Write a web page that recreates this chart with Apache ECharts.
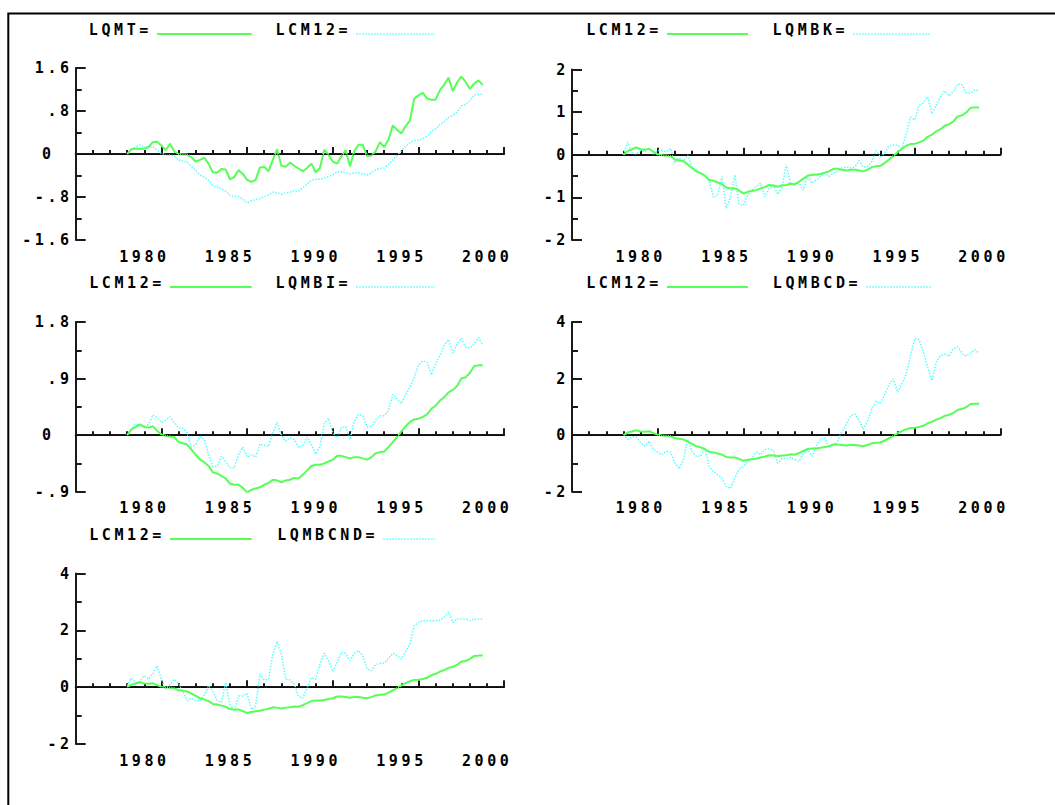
<!DOCTYPE html>
<html>
<head>
<meta charset="utf-8">
<title>LCM12</title>
<script src="https://cdn.jsdelivr.net/npm/echarts@6/dist/echarts.min.js"></script>
<style>
    body { margin: 0; background: #fff; }
    #chart { width: 1055px; height: 805px; }
    /* the old plotter font is very wide, so spread the letters out */
    #chart text { letter-spacing: 3.6px; }
</style>
</head>
<body>
<div id="chart"></div>
<script type="text/javascript">
    // quarterly values, first point is 1978 Q1
    var startYear = 1978;

    var LCM12 = [0.00, 0.09, 0.13, 0.17, 0.13, 0.12, 0.14, 0.07, 0.01, -0.01,
        -0.02, -0.03, -0.11, -0.13, -0.15, -0.23, -0.31, -0.39, -0.43, -0.49,
        -0.59, -0.61, -0.65, -0.69, -0.77, -0.79, -0.79, -0.84, -0.91, -0.87,
        -0.85, -0.83, -0.79, -0.76, -0.71, -0.72, -0.75, -0.72, -0.71, -0.68,
        -0.69, -0.63, -0.56, -0.49, -0.47, -0.47, -0.45, -0.42, -0.39, -0.33,
        -0.33, -0.35, -0.37, -0.35, -0.35, -0.37, -0.39, -0.35, -0.29, -0.27,
        -0.26, -0.19, -0.11, -0.03, 0.06, 0.14, 0.21, 0.25, 0.26, 0.29,
        0.33, 0.42, 0.47, 0.55, 0.60, 0.68, 0.72, 0.78, 0.90, 0.92,
        0.99, 1.10, 1.11, 1.11];

    var LQMT = [0.00, 0.09, 0.10, 0.10, 0.10, 0.13, 0.22, 0.23, 0.16, 0.07,
        0.19, 0.05, 0.00, -0.01, -0.01, -0.06, -0.14, -0.11, -0.07, -0.18,
        -0.34, -0.35, -0.28, -0.29, -0.47, -0.43, -0.30, -0.37, -0.48, -0.52,
        -0.48, -0.25, -0.24, -0.32, -0.11, 0.09, -0.22, -0.24, -0.16, -0.22,
        -0.27, -0.32, -0.26, -0.18, -0.34, -0.26, 0.08, -0.01, -0.14, -0.18,
        -0.04, 0.07, -0.23, 0.05, 0.17, 0.17, -0.04, -0.03, 0.05, 0.22,
        0.13, 0.27, 0.53, 0.45, 0.38, 0.52, 0.62, 1.03, 1.09, 1.14,
        1.03, 1.01, 1.01, 1.19, 1.29, 1.42, 1.17, 1.33, 1.44, 1.34,
        1.21, 1.31, 1.37, 1.28];

    var LQMBK = [0.00, 0.29, 0.05, 0.02, 0.10, 0.07, 0.15, 0.02, 0.10, 0.10,
        0.07, 0.15, -0.19, -0.07, -0.15, -0.01, -0.29, -0.35, -0.43, -0.51,
        -0.61, -0.99, -0.95, -0.51, -1.26, -0.99, -0.47, -1.15, -1.19, -0.95,
        -0.83, -0.75, -0.67, -0.99, -0.79, -0.71, -0.93, -0.77, -0.23, -0.67,
        -0.71, -0.67, -0.83, -0.51, -0.67, -0.59, -0.51, -0.43, -0.51, -0.43,
        -0.39, -0.31, -0.29, -0.31, -0.29, -0.14, -0.29, -0.27, -0.15, 0.10,
        -0.06, 0.05, 0.21, 0.23, 0.22, 0.15, 0.49, 0.88, 0.82, 1.16,
        1.22, 1.36, 0.96, 1.16, 1.36, 1.50, 1.38, 1.48, 1.66, 1.64,
        1.46, 1.44, 1.52, 1.50];

    var LQMBI = [0.00, 0.09, 0.18, 0.13, 0.14, 0.17, 0.32, 0.28, 0.20, 0.24,
        0.29, 0.20, 0.12, 0.11, 0.04, -0.19, -0.15, -0.02, -0.07, -0.31,
        -0.50, -0.50, -0.34, -0.42, -0.52, -0.52, -0.31, -0.19, -0.35, -0.31,
        -0.35, -0.14, -0.16, -0.18, 0.04, 0.20, 0.00, -0.10, -0.04, -0.07,
        -0.20, -0.16, -0.03, -0.15, -0.30, -0.18, 0.18, 0.27, 0.04, -0.04,
        0.12, 0.14, -0.07, 0.22, 0.33, 0.31, 0.13, 0.14, 0.24, 0.31,
        0.31, 0.39, 0.65, 0.57, 0.50, 0.65, 0.76, 0.92, 1.12, 1.18,
        1.16, 0.96, 1.14, 1.27, 1.43, 1.52, 1.31, 1.45, 1.54, 1.40,
        1.39, 1.45, 1.55, 1.43];

    var LQMBCD = [0.02, -0.15, -0.07, -0.07, -0.27, -0.39, -0.21, -0.51, -0.60, -0.69,
        -0.57, -0.60, -0.99, -1.19, -0.87, -0.15, -0.57, -0.75, -0.75, -0.45,
        -1.11, -1.29, -1.40, -1.52, -1.82, -1.88, -1.52, -1.19, -1.11, -0.93,
        -0.83, -0.60, -0.69, -0.51, -0.48, -0.55, -0.99, -0.83, -0.83, -0.79,
        -0.87, -0.93, -0.63, -0.51, -0.75, -0.39, -0.12, -0.10, -0.43, -0.36,
        -0.21, 0.12, 0.38, 0.68, 0.74, 0.52, 0.20, 0.52, 0.92, 1.19,
        1.12, 1.45, 1.79, 1.99, 1.51, 1.81, 2.17, 2.82, 3.42, 3.38,
        2.94, 2.40, 1.93, 2.58, 2.82, 2.86, 2.79, 3.06, 3.12, 2.90,
        2.79, 2.90, 3.02, 2.90];

    var LQMBCND = [0.05, 0.32, 0.16, 0.20, 0.40, 0.28, 0.46, 0.75, 0.28, -0.07,
        0.08, 0.28, 0.13, -0.15, -0.48, -0.39, -0.48, -0.48, -0.27, 0.05,
        -0.13, -0.46, -0.54, 0.16, -0.60, -0.84, -0.31, -0.31, -0.22, -0.78,
        -0.66, 0.46, 0.25, 0.28, 1.16, 1.61, 1.16, 0.28, 0.25, 0.11,
        -0.31, -0.39, -0.04, 0.34, 0.28, 0.81, 1.19, 0.93, 0.55, 0.87,
        1.22, 1.19, 0.93, 1.19, 1.28, 1.11, 0.64, 0.58, 0.79, 0.84,
        0.84, 1.02, 1.19, 1.11, 0.99, 1.26, 1.52, 2.16, 2.28, 2.34,
        2.34, 2.34, 2.34, 2.36, 2.46, 2.64, 2.28, 2.40, 2.40, 2.40,
        2.34, 2.40, 2.40, 2.40];

    var seriesValues = {
        LCM12: LCM12, LQMT: LQMT, LQMBK: LQMBK,
        LQMBI: LQMBI, LQMBCD: LQMBCD, LQMBCND: LQMBCND
    };

    // x axis runs 1975..2000, labels every 5 years
    var xMin = 1975, xMax = 2000, xStep = 5;

    var GREEN = '#55ff55';
    var CYAN = '#55ffff';
    var AXIS = '#1a1a1a';
    var W = 1055;

    var font = {
        fontFamily: "'DejaVu Sans Mono', monospace",
        fontWeight: 'bold',
        fontSize: 15,
        color: '#000'
    };

    var panels = [
        {grid: {left: 75.7, top: 68, width: 428.5, height: 172},
            yMin: -1.6, yMax: 1.6, yStep: 0.8, zeroShift: true,
            solid: 'LQMT', dotted: 'LCM12', legendY: 35,
            solidEnd: 252.7, solidLen: 94.7, dottedEnd: 435.7, dottedLen: 78.7},
        {grid: {left: 572, top: 69.5, width: 428.5, height: 170.5},
            yMin: -2, yMax: 2, yStep: 1, zeroShift: false,
            solid: 'LCM12', dotted: 'LQMBK', legendY: 35,
            solidEnd: 749, solidLen: 81, dottedEnd: 932, dottedLen: 78},
        {grid: {left: 75.7, top: 322, width: 428.5, height: 169.7},
            yMin: -0.9, yMax: 1.8, yStep: 0.9, zeroShift: true,
            solid: 'LCM12', dotted: 'LQMBI', legendY: 288,
            solidEnd: 252.7, solidLen: 81.7, dottedEnd: 435.7, dottedLen: 78.7},
        {grid: {left: 572, top: 322, width: 428.5, height: 169.7},
            yMin: -2, yMax: 4, yStep: 2, zeroShift: false,
            solid: 'LCM12', dotted: 'LQMBCD', legendY: 288,
            solidEnd: 749, solidLen: 81, dottedEnd: 932, dottedLen: 65},
        {grid: {left: 75.7, top: 573.5, width: 428.5, height: 170.5},
            yMin: -2, yMax: 4, yStep: 2, zeroShift: false,
            solid: 'LCM12', dotted: 'LQMBCND', legendY: 540,
            solidEnd: 252.7, solidLen: 81.7, dottedEnd: 435.7, dottedLen: 51.7}
    ];

    function toXY(values) {
        var out = [];
        for (var i = 0; i < values.length; i++) {
            out.push([startYear + i / 4, values[i]]);
        }
        return out;
    }

    function fmtY(v) {
        var s = String(Math.round(v * 100) / 100);
        return s.replace(/^(-?)0\./, '$1.');
    }

    var solidLine = {color: GREEN, width: 2, type: 'solid'};
    var dottedLine = {color: CYAN, width: 1.5, type: [1.5, 1.5]};

    function legendFor(name, line, color, end, len, y) {
        return {
            data: [{name: name, lineStyle: line, itemStyle: {color: color, opacity: 0}}],
            right: W - end, top: y - 13,
            itemWidth: len, itemHeight: 14, padding: 0,
            align: 'right', selectedMode: false,
            // raise the name a little so the sample line sits on its baseline
            formatter: '{t|{name}=}',
            textStyle: Object.assign({}, font, {
                rich: {t: Object.assign({}, font, {padding: [0, 0, 9, 0]})}
            })
        };
    }

    var grids = [], xAxes = [], yAxes = [], legends = [], series = [];

    panels.forEach(function (p, k) {
        grids.push(p.grid);

        xAxes.push({
            type: 'value', gridIndex: k,
            min: xMin, max: xMax, interval: xStep,
            axisLine: {lineStyle: {color: AXIS, width: 2}},
            axisTick: {inside: true, length: 7, lineStyle: {color: AXIS, width: 2}},
            minorTick: {show: true, splitNumber: 5, length: 4, lineStyle: {color: AXIS, width: 2}},
            splitLine: {show: false},
            axisLabel: Object.assign({}, font, {
                margin: 9,
                padding: [0, 34, 0, 0],
                formatter: function (v) { return v === xMin ? '' : String(v); }
            })
        });

        var zeroShift = p.zeroShift;
        yAxes.push({
            type: 'value', gridIndex: k,
            min: p.yMin, max: p.yMax, interval: p.yStep,
            axisLine: {show: true, lineStyle: {color: AXIS, width: 2}},
            axisTick: {show: true, inside: true, length: 10, lineStyle: {color: AXIS, width: 2}},
            minorTick: {show: true, splitNumber: 2, length: 6, lineStyle: {color: AXIS, width: 2}},
            splitLine: {show: false},
            axisLabel: Object.assign({}, font, {
                margin: 3,
                formatter: function (v) {
                    if (zeroShift && Math.abs(v) < 1e-9) return '{z|0}';
                    return fmtY(v);
                },
                rich: {z: Object.assign({}, font, {padding: [0, 18, 0, 0]})}
            })
        });

        legends.push(legendFor(p.solid, solidLine, GREEN, p.solidEnd, p.solidLen, p.legendY));
        legends.push(legendFor(p.dotted, dottedLine, CYAN, p.dottedEnd, p.dottedLen, p.legendY));

        series.push({
            type: 'line', name: p.dotted,
            xAxisIndex: k, yAxisIndex: k,
            data: toXY(seriesValues[p.dotted]),
            symbol: 'none', silent: true, z: 2,
            lineStyle: dottedLine, itemStyle: {color: CYAN}
        });
        series.push({
            type: 'line', name: p.solid,
            xAxisIndex: k, yAxisIndex: k,
            data: toXY(seriesValues[p.solid]),
            symbol: 'none', silent: true, z: 3,
            lineStyle: solidLine, itemStyle: {color: GREEN},
            markLine: {
                silent: true, symbol: ['none', 'none'],
                label: {show: false},
                lineStyle: {color: '#000', width: 1.2, type: [1, 1.2]},
                data: [{yAxis: 0}]
            }
        });
    });

    var chart = echarts.init(document.getElementById('chart'), null, {renderer: 'svg'});
    chart.setOption({
        animation: false,
        backgroundColor: '#fff',
        graphic: [{
            type: 'rect', silent: true,
            shape: {x: 8.3, y: 13.5, width: 1100, height: 850},
            style: {fill: 'none', stroke: '#000', lineWidth: 2}
        }],
        grid: grids,
        xAxis: xAxes,
        yAxis: yAxes,
        legend: legends,
        series: series
    });
</script>
</body>
</html>
